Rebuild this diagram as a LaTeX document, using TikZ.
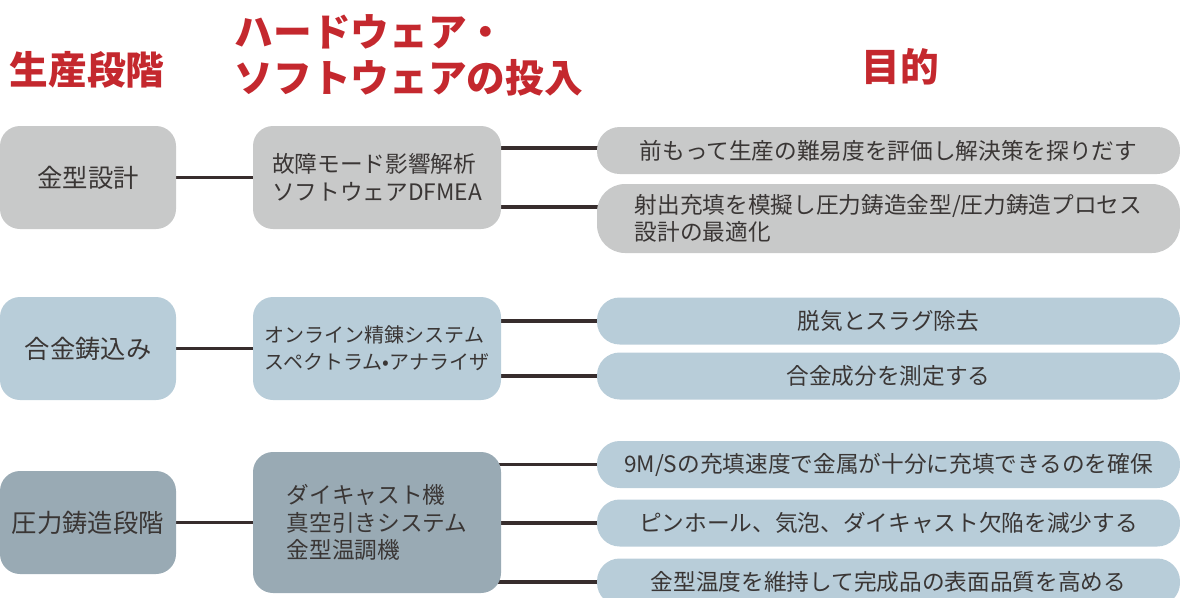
\documentclass[tikz,border=0pt]{standalone}
\usepackage{fontspec}
\setmainfont{Noto Sans CJK JP}
\usetikzlibrary{positioning}
\pgfdeclarelayer{background}
\pgfsetlayers{background,main}
\definecolor{headred}{RGB}{196,40,46}
\definecolor{textdark}{RGB}{58,54,53}
\definecolor{linedark}{RGB}{55,45,45}
\definecolor{greyfill}{RGB}{200,201,201}
\definecolor{bluefill}{RGB}{184,205,217}
\definecolor{slatefill}{RGB}{153,170,180}

\begin{document}
\begin{tikzpicture}
    [x=0.75pt, y=-0.75pt, line/.style={draw=linedark, line width=2.6pt}]
    % Define styles for stages, tools, goals and headings
    \tikzstyle{stage} = [rectangle, rounded corners=15pt, minimum width=132pt, minimum height=77.25pt, text=textdark, font=\fontsize{19}{23}\selectfont]
    \tikzstyle{tool} = [rectangle, rounded corners=15pt, minimum width=186pt, minimum height=77.25pt, align=left, text=textdark, font=\fontsize{17}{20.5}\selectfont]
    \tikzstyle{goal} = [rectangle, rounded corners=17pt, minimum width=437.25pt, minimum height=35.25pt, align=left, text=textdark, font=\fontsize{17}{20.5}\selectfont]
    \tikzstyle{heading} = [text=headred, align=left, font=\fontsize{29}{34.5}\selectfont\bfseries]

    \clip (0,0) rectangle (1180,597);

    % Headings
    \node [heading] (h1) at (87,70) {生産段階};
    \node [heading, anchor=west] (h2) at (230,55) {ハードウェア・\\ソフトウェアの投入};
    \node [heading] (h3) at (900,67) {目的};

    % Nodes placement
    \node [stage, fill=greyfill] (s1) at (88,177.5) {金型設計};
    \node [tool, fill=greyfill, right of=s1, node distance=216.75pt] (m1) {故障モード影響解析\\ソフトウェアDFMEA};
    \node [goal, fill=greyfill] (r1a) at (888.5,150.5) {前もって生産の難易度を評価し解決策を探りだす};
    \node [goal, fill=greyfill, minimum height=51.75pt, rounded corners=21pt] (r1b) at (888.5,218.5) {射出充填を模擬し圧力鋳造金型/圧力鋳造プロセス\\設計の最適化};

    \node [stage, fill=bluefill] (s2) at (88,348.5) {合金鋳込み};
    \node [tool, fill=bluefill, right of=s2, node distance=216.75pt, font=\fontsize{15}{20.5}\selectfont] (m2) {オンライン精錬システム\\スペクトラム•アナライザ};
    \node [goal, fill=bluefill] (r2a) at (888.5,321) {脱気とスラグ除去};
    \node [goal, fill=bluefill] (r2b) at (888.5,376) {合金成分を測定する};

    \node [stage, fill=slatefill] (s3) at (88,522.5) {圧力鋳造段階};
    \node [tool, fill=slatefill, right of=s3, node distance=216.75pt, minimum height=105.75pt] (m3) {ダイキャスト機\\真空引きシステム\\金型温調機};
    \node [goal, fill=bluefill] (r3a) at (888.5,464.5) {9M/Sの充填速度で金属が十分に充填できるのを確保};
    \node [goal, fill=bluefill] (r3b) at (888.5,523) {ピンホール、気泡、ダイキャスト欠陥を減少する};
    \node [goal, fill=bluefill] (r3c) at (888.5,582) {金型温度を維持して完成品の表面品質を高める};

    % Draw edges
    \begin{pgfonlayer}{background}
    \draw[line] (s1.center) -- (m1.center);
    \coordinate (t1a) at ([yshift=22.1pt]m1.center);
    \coordinate (t1b) at ([yshift=-22.1pt]m1.center);
    \draw[line] (t1a) -- (t1a -| r1a.center);
    \draw[line] (t1b) -- (t1b -| r1b.center);

    \draw[line] (s2.center) -- (m2.center);
    \draw[line] (m2.center |- r2a.center) -- (r2a.center);
    \draw[line] (m2.center |- r2b.center) -- (r2b.center);

    \draw[line] (s3.center) -- (m3.center);
    \draw[line] (m3.center |- r3a.center) -- (r3a.center);
    \draw[line] (m3.center |- r3b.center) -- (r3b.center);
    \draw[line] (m3.center |- r3c.center) -- (r3c.center);
    \end{pgfonlayer}
\end{tikzpicture}
\end{document}
